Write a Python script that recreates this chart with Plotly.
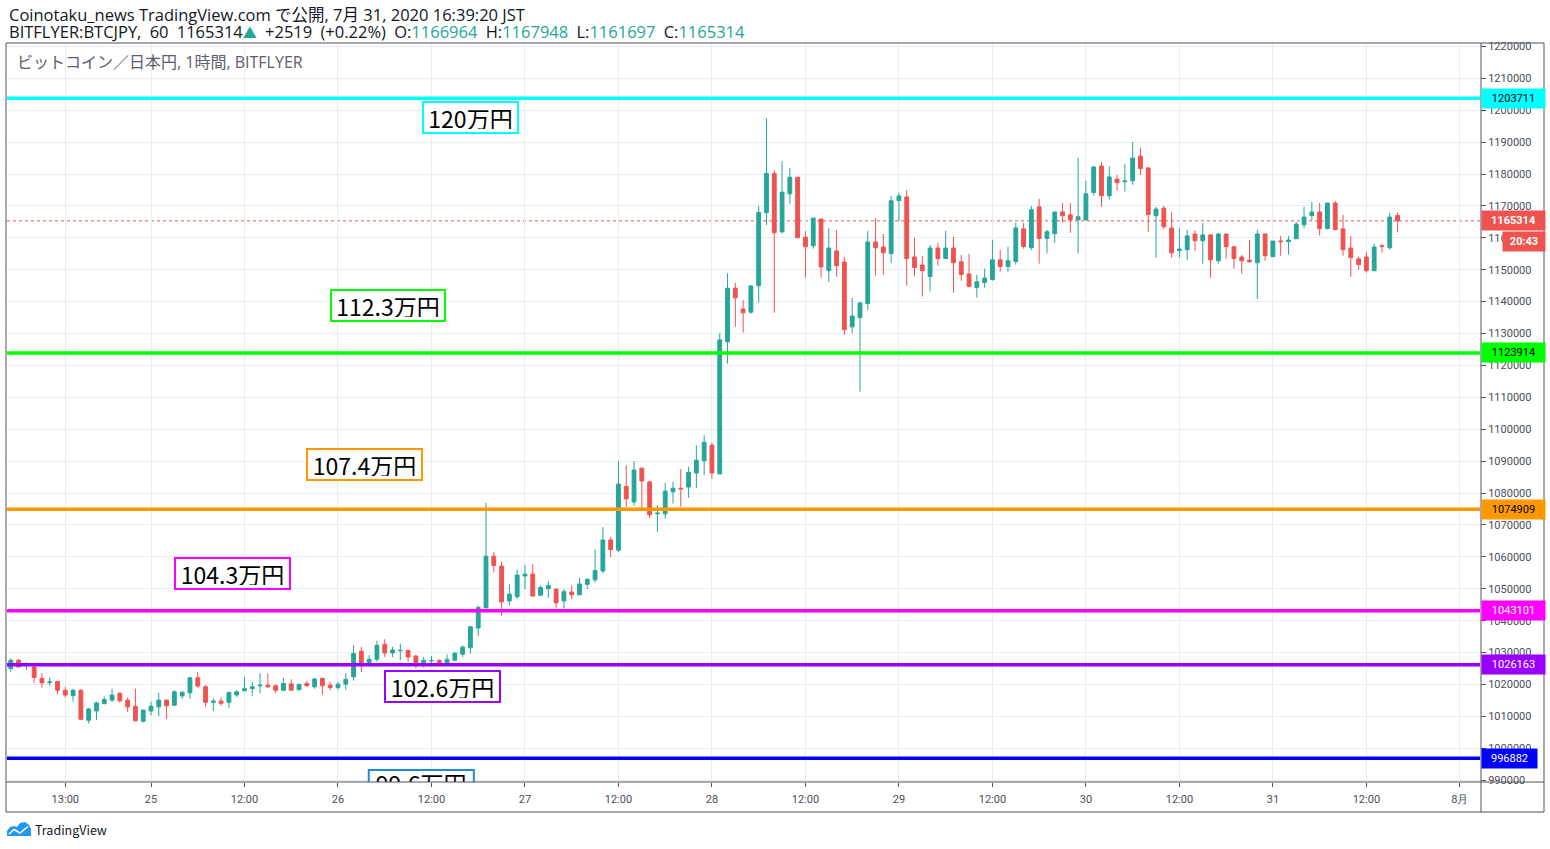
import plotly.graph_objects as go
import pandas as pd

# ---------------- data ----------------
times = pd.date_range("2020-07-24 06:00", periods=179, freq="h")

opens = [
    1025000, 1027600, 1026000, 1025500, 1021900, 1020600, 1020900, 1018200, 1016500, 1018200,
    1008800, 1011700, 1014000, 1015100, 1017200, 1015100, 1013200, 1008500, 1011700, 1013000,
    1015100, 1013500, 1016400, 1017400, 1022100, 1019300, 1014400, 1014800, 1014400, 1016700,
    1018000, 1018700, 1019600, 1019800, 1019600, 1018200, 1020200, 1018400, 1020300, 1019300,
    1021900, 1019800, 1019000, 1020100, 1022400, 1030400, 1026900, 1027900, 1032600, 1029900,
    1030600, 1030700, 1028900, 1026800, 1027400, 1027600, 1026900, 1027600, 1029500, 1031500,
    1037700, 1044000, 1060200, 1057100, 1046200, 1047500, 1054000, 1054600, 1048000, 1050000,
    1049900, 1046200, 1049000, 1048100, 1051400, 1052800, 1055600, 1065300, 1062100, 1082100,
    1077200, 1087800, 1083500, 1073500, 1073500, 1080400, 1081500, 1081900, 1086300, 1090100,
    1095000, 1086000, 1127400, 1144200, 1137700, 1136700, 1145000, 1167900, 1180200, 1161900,
    1173800, 1179000, 1160200, 1157500, 1165900, 1149700, 1155900, 1152400, 1132100, 1135000,
    1139400, 1158700, 1157100, 1155100, 1171700, 1172800, 1154000, 1151500, 1147900, 1156800,
    1153500, 1156800, 1152500, 1148700, 1144400, 1146000, 1146900, 1153100, 1151000, 1152600,
    1162800, 1156900, 1169700, 1159800, 1161300, 1168100, 1167200, 1165700, 1165600, 1174200,
    1182500, 1173200, 1178400, 1177600, 1177900, 1185600, 1181900, 1166900, 1169300, 1163100,
    1156000, 1156300, 1161200, 1159100, 1160900, 1152800, 1161200, 1157200, 1154000, 1153000,
    1152200, 1161200, 1154100, 1159000, 1158800, 1159700, 1164100, 1167000, 1168100, 1162900,
    1170900, 1162800, 1156800, 1153400, 1154000, 1149700, 1157500, 1156900, 1166964,
]
highs = [
    1028200, 1028000, 1027000, 1026600, 1023500, 1022200, 1021000, 1019300, 1018700, 1018500,
    1012700, 1014600, 1016300, 1018700, 1017700, 1015900, 1018700, 1012000, 1014600, 1017400,
    1015200, 1018200, 1017600, 1022400, 1024000, 1019800, 1015600, 1015900, 1017700, 1018200,
    1022400, 1020800, 1023500, 1023500, 1020100, 1022100, 1021600, 1020300, 1021200, 1022100,
    1022200, 1020800, 1020800, 1023500, 1032300, 1031800, 1029200, 1033700, 1034200, 1031800,
    1032800, 1030800, 1029300, 1028600, 1028900, 1027800, 1029400, 1030100, 1032300, 1038300,
    1044800, 1076900, 1061600, 1058600, 1051400, 1056100, 1057400, 1057700, 1051100, 1052400,
    1049900, 1049900, 1051000, 1053400, 1053000, 1062300, 1069300, 1066300, 1090000, 1088700,
    1090000, 1088000, 1083800, 1076200, 1083200, 1083500, 1087500, 1088200, 1095000, 1098100,
    1095800, 1130100, 1148900, 1145900, 1140500, 1145200, 1170000, 1197500, 1181300, 1184100,
    1181800, 1179000, 1162100, 1166200, 1165900, 1163100, 1162400, 1154000, 1141100, 1139900,
    1162100, 1166200, 1161200, 1173100, 1174200, 1175000, 1160000, 1154300, 1157800, 1158400,
    1162200, 1160300, 1154600, 1155000, 1148400, 1150300, 1159400, 1156200, 1157200, 1164700,
    1164700, 1170000, 1172200, 1162500, 1168100, 1170900, 1170900, 1185100, 1177900, 1182500,
    1183800, 1182500, 1179700, 1183100, 1190000, 1188200, 1182200, 1169700, 1170000, 1168100,
    1163100, 1162400, 1162400, 1164600, 1161200, 1161500, 1161200, 1157400, 1154600, 1159300,
    1162400, 1161200, 1159000, 1160600, 1160600, 1164900, 1169700, 1171200, 1170900, 1170900,
    1171600, 1167200, 1160600, 1154100, 1155600, 1158100, 1158100, 1167800, 1167948,
]
lows = [
    1024000, 1025500, 1024500, 1020500, 1019000, 1019600, 1016900, 1015900, 1014600, 1008800,
    1007800, 1008800, 1013800, 1014600, 1014300, 1011400, 1008600, 1008100, 1010400, 1010100,
    1009200, 1013400, 1015500, 1015500, 1019000, 1013000, 1011700, 1013300, 1012700, 1016100,
    1018000, 1016400, 1017200, 1018900, 1017200, 1018000, 1018200, 1018000, 1019300, 1018700,
    1016800, 1018200, 1018400, 1018400, 1021200, 1023900, 1026600, 1027100, 1028600, 1028600,
    1027600, 1027100, 1025000, 1025300, 1026600, 1026600, 1026600, 1027400, 1028600, 1029700,
    1035200, 1044000, 1055100, 1041500, 1044800, 1046900, 1049900, 1047700, 1047700, 1047200,
    1044000, 1043800, 1046700, 1048100, 1050000, 1051900, 1054800, 1060000, 1061500, 1075700,
    1076000, 1075100, 1072200, 1067800, 1071900, 1076700, 1075700, 1078500, 1081600, 1085600,
    1084400, 1086000, 1120600, 1132100, 1130300, 1136200, 1139700, 1164000, 1136500, 1161300,
    1170700, 1160000, 1147500, 1156600, 1147500, 1146200, 1147800, 1129600, 1130100, 1111800,
    1137400, 1148100, 1148400, 1152200, 1165100, 1145000, 1147900, 1141600, 1143200, 1151300,
    1153500, 1142800, 1146600, 1144700, 1141300, 1144400, 1146600, 1149400, 1149400, 1151600,
    1156600, 1156200, 1151900, 1155100, 1158500, 1164800, 1161600, 1155100, 1165600, 1173200,
    1169700, 1172000, 1174800, 1174500, 1176600, 1179800, 1161900, 1153800, 1162600, 1153800,
    1153800, 1153100, 1156000, 1151900, 1147500, 1151900, 1153500, 1150300, 1148800, 1152200,
    1140900, 1152800, 1154100, 1154400, 1154700, 1159700, 1162900, 1165600, 1160700, 1162600,
    1162300, 1154400, 1147800, 1150000, 1149100, 1149700, 1155400, 1156300, 1161697,
]
closes = [
    1027600, 1025500, 1026500, 1022200, 1020500, 1020800, 1018200, 1016700, 1018200, 1009100,
    1012300, 1014200, 1015300, 1016700, 1014900, 1013000, 1008600, 1012000, 1013200, 1015100,
    1013300, 1017700, 1017600, 1022100, 1019500, 1014400, 1014800, 1014100, 1017500, 1017700,
    1018700, 1019300, 1019800, 1019300, 1018200, 1020300, 1018200, 1020000, 1019600, 1021700,
    1019600, 1019000, 1020100, 1021600, 1029700, 1026000, 1027900, 1032300, 1029900, 1030800,
    1030700, 1028600, 1026600, 1027600, 1027500, 1026900, 1027900, 1029800, 1031700, 1038100,
    1044100, 1060200, 1057300, 1045900, 1048300, 1054300, 1054600, 1047700, 1050400, 1051000,
    1045600, 1049100, 1048100, 1051500, 1053000, 1055700, 1065300, 1062300, 1082800, 1078200,
    1087200, 1083800, 1073200, 1073700, 1080600, 1081500, 1081300, 1086500, 1090300, 1095900,
    1086300, 1128000, 1144200, 1141200, 1136500, 1144900, 1168000, 1180200, 1161600, 1174300,
    1179000, 1160000, 1157200, 1166200, 1150900, 1156800, 1151300, 1131200, 1135500, 1139600,
    1158700, 1156900, 1155300, 1171600, 1173100, 1153500, 1150700, 1149700, 1156800, 1153500,
    1156800, 1152200, 1148500, 1144700, 1146200, 1147400, 1153100, 1151000, 1152800, 1163100,
    1157300, 1168800, 1159800, 1161900, 1168100, 1166900, 1165700, 1166600, 1173800, 1182200,
    1173200, 1179100, 1177300, 1177800, 1185000, 1181700, 1167300, 1169000, 1163500, 1155300,
    1156500, 1160600, 1159100, 1160900, 1153100, 1161200, 1157200, 1153500, 1152800, 1152500,
    1161200, 1154400, 1159000, 1158800, 1159300, 1164300, 1166500, 1168100, 1162900, 1170900,
    1162600, 1156300, 1153800, 1151600, 1149700, 1157100, 1157300, 1166500, 1165314,
]

last_price = 1165314
countdown = "20:43"

# horizontal levels (price lines drawn on the chart)
levels = [1203711, 1123914, 1074909, 1043101, 1026163, 996882]
level_colors = ["#00ffff", "#00ff00", "#ff9800", "#ff00ff", "#9900ff", "#0000ff"]
level_text_colors = ["#000000", "#000000", "#000000", "#ffffff", "#ffffff", "#ffffff"]

# text-box notes
note_texts = ["120万円", "112.3万円", "107.4万円", "104.3万円", "102.6万円"]
note_times = ["2020-07-26 16:59", "2020-07-26 06:24", "2020-07-26 03:23",
              "2020-07-25 10:27", "2020-07-26 13:23"]
note_prices = [1197743, 1138804, 1088800, 1054942, 1019360]
note_colors = ["#00ffff", "#00ff00", "#ff9800", "#ff00ff", "#9900ff"]
note_widths = [87, 106, 107, 107, 107]

clip_note_text = "99.6万円"
clip_note_time = "2020-07-26 10:41"
clip_note_price = 987853
clip_note_box = (["2020-07-26 03:57", "2020-07-26 17:26"], [982511, 993170])
clip_note_color = "#1e88e5"

tick_vals = ["2020-07-24 13:00", "2020-07-25", "2020-07-25 12:00", "2020-07-26",
             "2020-07-26 12:00", "2020-07-27", "2020-07-27 12:00", "2020-07-28",
             "2020-07-28 12:00", "2020-07-29", "2020-07-29 12:00", "2020-07-30",
             "2020-07-30 12:00", "2020-07-31", "2020-07-31 12:00", "2020-08-01"]
tick_text = ["13:00", "25", "12:00", "26", "12:00", "27", "12:00", "28", "12:00",
             "29", "12:00", "30", "12:00", "31", "12:00", "8月"]
y_ticks = list(range(990000, 1230000, 10000))

header1 = "Coinotaku_news TradingView.com で公開, 7月 31, 2020 16:39:20 JST"
teal = "#26a69a"
SP = "\u2002"
header2 = ("BITFLYER:BTCJPY," + SP + "60" + SP + "1165314"
           + "<span style='color:%s;font-size:14px'>▲</span>" % teal
           + SP + "+2519" + SP + "(+0.22%)" + SP
           + "O:<span style='color:%s'>1166964</span>" % teal + SP
           + "H:<span style='color:%s'>1167948</span>" % teal + SP
           + "L:<span style='color:%s'>1161697</span>" % teal + SP
           + "C:<span style='color:%s'>1165314</span>" % teal)
legend_text = "ビットコイン／日本円, 1時間, BITFLYER"

# ---------------- layout helpers ----------------
W, H = 1550, 849
PL, PR, PT, PB = 7, 1480, 43, 782


def px(X):
    return (X - PL) / (PR - PL)


def py(Y):
    return (PB - Y) / (PB - PT)


JP = "Noto Sans CJK JP, Noto Sans, sans-serif"
HDR = "Open Sans, Noto Sans CJK JP, sans-serif"
frame = "#50535e"

fig = go.Figure()
fig.add_trace(go.Candlestick(
    x=times, open=opens, high=highs, low=lows, close=closes,
    increasing=dict(line=dict(color="#26a69a", width=1), fillcolor="#26a69a"),
    decreasing=dict(line=dict(color="#ef5350", width=1), fillcolor="#ef5350"),
    whiskerwidth=0, showlegend=False, hoverinfo="skip",
))

# clipped note at the bottom (text clipped by the plot area)
fig.add_trace(go.Scatter(
    x=[clip_note_time], y=[clip_note_price], mode="text", text=[clip_note_text],
    textposition="middle center", textfont=dict(size=23, color="#000000", family=JP),
    cliponaxis=True, showlegend=False, hoverinfo="skip",
))

shapes = []
# current price dotted line
shapes.append(dict(type="line", xref="paper", yref="y", x0=0, x1=1, y0=last_price, y1=last_price,
                   line=dict(color="#ef5350", width=1, dash="dot"), layer="between"))
for lv, col in zip(levels, level_colors):
    shapes.append(dict(type="line", xref="paper", yref="y", x0=0, x1=1, y0=lv, y1=lv,
                       line=dict(color=col, width=3.5), layer="above"))
shapes.append(dict(type="rect", xref="x", yref="y",
                   x0=clip_note_box[0][0], x1=clip_note_box[0][1],
                   y0=clip_note_box[1][0], y1=clip_note_box[1][1],
                   line=dict(color=clip_note_color, width=2), fillcolor="rgba(255,255,255,1)",
                   layer="between"))
# outer frame pieces
for (x0, y0, x1, y1) in [(6, 43, 1544, 43), (1544, 43, 1544, 812), (6, 812, 1544, 812),
                         (6, 43, 6, 812), (1481, 43, 1481, 812), (6, 782, 1544, 782)]:
    shapes.append(dict(type="line", xref="paper", yref="paper",
                       x0=px(x0), x1=px(x1), y0=py(y0), y1=py(y1),
                       line=dict(color=frame, width=1)))
# TradingView logo (cloud)
logo = [(7, 836), (7, 831), (10, 827), (14, 826), (17, 827), (20, 823), (25, 822), (29, 825),
        (31, 829), (31, 836)]
path = "M " + " L ".join("%f,%f" % (px(a), py(b)) for a, b in logo) + " Z"
shapes.append(dict(type="path", xref="paper", yref="paper", path=path,
                   fillcolor="#2196f3", line=dict(width=0)))
zig = [(9, 834), (14, 829.5), (20, 833), (28, 826.5)]
path2 = "M " + " L ".join("%f,%f" % (px(a), py(b)) for a, b in zig)
shapes.append(dict(type="path", xref="paper", yref="paper", path=path2,
                   line=dict(color="#ffffff", width=1.6)))

annotations = []
annotations.append(dict(xref="paper", yref="paper", x=px(7), y=py(15), xanchor="left", yanchor="middle",
                        text=header1, showarrow=False, font=dict(family=HDR, size=16.5, color="#131722")))
annotations.append(dict(xref="paper", yref="paper", x=px(7), y=py(32), xanchor="left", yanchor="middle",
                        text=header2, showarrow=False, font=dict(family=HDR, size=16.5, color="#131722")))
annotations.append(dict(xref="paper", yref="paper", x=px(15), y=py(62), xanchor="left", yanchor="middle",
                        text=legend_text, showarrow=False, font=dict(family=HDR, size=16, color="#5d606b")))
annotations.append(dict(xref="paper", yref="paper", x=px(33), y=py(830), xanchor="left", yanchor="middle",
                        text="TradingView", showarrow=False, font=dict(family=JP, size=12.5, color="#131722")))

for t, xt, yp, c, w in zip(note_texts, note_times, note_prices, note_colors, note_widths):
    annotations.append(dict(xref="x", yref="y", x=xt, y=yp, xanchor="center", yanchor="middle",
                            text=t, showarrow=False, bordercolor=c, borderwidth=2, borderpad=3,
                            bgcolor="rgba(255,255,255,1)", width=w, height=23, align="center",
                            font=dict(family=JP, size=23, color="#000000")))

for lv, col, tc in zip(levels, level_colors, level_text_colors):
    annotations.append(dict(xref="paper", yref="y", x=px(1481), y=lv, xanchor="left", yanchor="middle",
                            text=str(lv), showarrow=False, bgcolor=col, borderpad=2,
                            width=51 if lv < 1000000 else 59, height=15, align="center",
                            font=dict(family="Roboto, sans-serif", size=11, color=tc)))
annotations.append(dict(xref="paper", yref="y", x=px(1481), y=last_price, xanchor="left", yanchor="middle",
                        text="<b>%d</b>" % last_price, showarrow=False, bgcolor="#ef5350", borderpad=2,
                        width=59, height=15, align="center",
                        font=dict(family="Roboto, sans-serif", size=11, color="#ffffff")))
annotations.append(dict(xref="paper", yref="y", x=px(1502), y=last_price, yshift=-20.5,
                        xanchor="left", yanchor="middle",
                        text="<b>%s</b>" % countdown, showarrow=False, bgcolor="#ef5350", borderpad=2,
                        width=38, height=15, align="center",
                        font=dict(family="Roboto, sans-serif", size=11, color="#ffffff")))

fig.update_layout(
    width=W, height=H,
    margin=dict(l=PL, r=W - PR, t=PT, b=H - PB, pad=0),
    paper_bgcolor="#ffffff", plot_bgcolor="#ffffff",
    showlegend=False,
    shapes=shapes, annotations=annotations,
    xaxis=dict(
        type="date", range=["2020-07-24 05:31", "2020-08-01 02:35"],
        tickmode="array", tickvals=tick_vals, ticktext=tick_text,
        showgrid=True, gridcolor="#e6eef3", gridwidth=1,
        ticks="outside", ticklen=4, tickcolor=frame, ticklabelstandoff=3,
        tickfont=dict(family="Roboto, sans-serif", size=11, color="#4a4e59"),
        showline=False, zeroline=False, rangeslider=dict(visible=False),
        fixedrange=True,
    ),
    yaxis=dict(
        side="right", range=[989436, 1221066],
        tickmode="array", tickvals=y_ticks, tickformat="d",
        showgrid=True, gridcolor="#e6eef3", gridwidth=1,
        ticks="outside", ticklen=5, tickcolor=frame,
        tickfont=dict(family="Roboto, sans-serif", size=11, color="#4a4e59"),
        showline=False, zeroline=False, fixedrange=True,
    ),
    font=dict(family=JP),
)

fig.write_html("out.html", config={"displayModeBar": False},
               post_script="document.body.style.margin='0';document.body.style.overflow='hidden';")
